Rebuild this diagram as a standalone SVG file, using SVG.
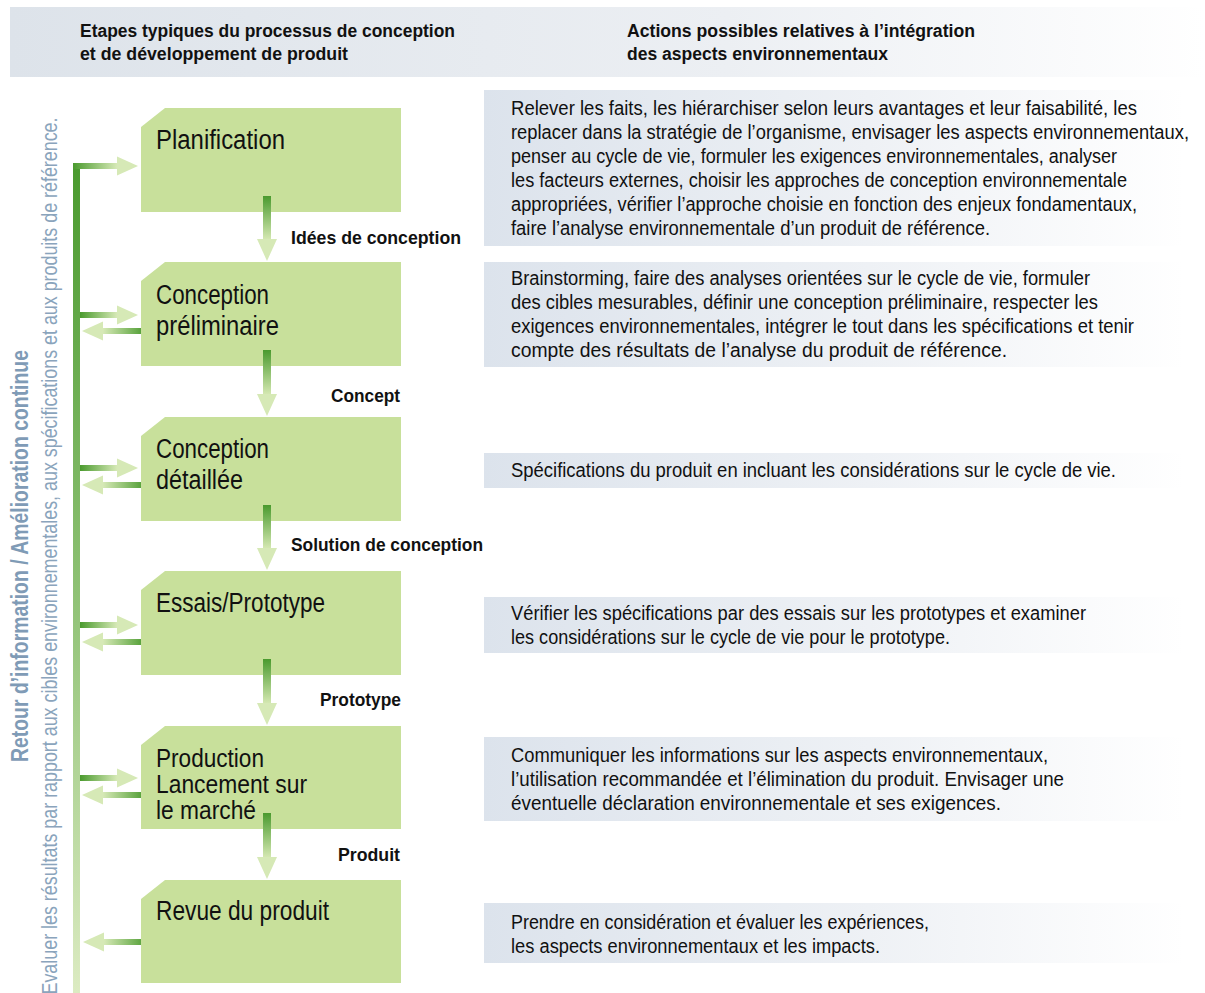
<svg xmlns="http://www.w3.org/2000/svg" width="1205" height="993" viewBox="0 0 1205 993">
<defs>
<linearGradient id="gBand" x1="0" y1="0" x2="1" y2="0"><stop offset="0" stop-color="#dde3ea"/><stop offset="0.6" stop-color="#eceff3"/><stop offset="1" stop-color="#ffffff"/></linearGradient>
<linearGradient id="gBox" x1="0" y1="0" x2="1" y2="0"><stop offset="0" stop-color="#dce3ec"/><stop offset="0.55" stop-color="#eef1f5"/><stop offset="1" stop-color="#ffffff"/></linearGradient>
<linearGradient id="gDown" x1="0" y1="0" x2="0" y2="1"><stop offset="0" stop-color="#4a9a2e"/><stop offset="1" stop-color="#d3e7b0"/></linearGradient>
<linearGradient id="gRight" x1="0" y1="0" x2="1" y2="0"><stop offset="0" stop-color="#4a9a2e"/><stop offset="1" stop-color="#d6e9b6"/></linearGradient>
<linearGradient id="gLeft" x1="1" y1="0" x2="0" y2="0"><stop offset="0" stop-color="#4a9a2e"/><stop offset="1" stop-color="#d6e9b6"/></linearGradient>
<linearGradient id="gVert" x1="0" y1="0" x2="0" y2="1"><stop offset="0" stop-color="#4a9a2e"/><stop offset="0.5" stop-color="#8cc072"/><stop offset="1" stop-color="#dcebc2"/></linearGradient>
</defs>
<style>
text{font-family:"Liberation Sans Narrow","Liberation Sans",Arial,sans-serif;fill:#111;}
.hd{font-size:18px;font-weight:bold;}
.nd{font-size:27px;}
.nd2{font-size:26px;}
.lb{font-size:19px;font-weight:bold;}
.ac{font-size:20px;}
.node{fill:#c8e09b;}
.head{fill:#d6e9b6;}
.vt1{font-size:23px;font-weight:bold;fill:#7f9bb6;}
.vt2{font-size:22px;fill:#8aa4bc;}
</style>

<g id="header">
<rect x="10" y="7" width="1195" height="70" fill="url(#gBand)"/>
<text class="hd" x="80" y="37" textLength="375" lengthAdjust="spacingAndGlyphs">Etapes typiques du processus de conception</text>
<text class="hd" x="80" y="60" textLength="268" lengthAdjust="spacingAndGlyphs">et de développement de produit</text>
<text class="hd" x="627" y="37" textLength="348" lengthAdjust="spacingAndGlyphs">Actions possibles relatives à l’intégration</text>
<text class="hd" x="627" y="60" textLength="261" lengthAdjust="spacingAndGlyphs">des aspects environnementaux</text>
</g>

<g id="side-labels">
<text class="vt1" transform="translate(28,556) rotate(-90)" text-anchor="middle" textLength="412" lengthAdjust="spacingAndGlyphs">Retour d’information / Amélioration continue</text>
<text class="vt2" transform="translate(57,556) rotate(-90)" text-anchor="middle" textLength="877" lengthAdjust="spacingAndGlyphs">Evaluer les résultats par rapport aux cibles environnementales, aux spécifications et aux produits de référence.</text>
</g>

<g id="connectors">
<rect x="73" y="163" width="7" height="830" fill="url(#gVert)"/>
<rect x="73" y="163" width="44" height="6" fill="url(#gRight)"/>
<polygon class="head" points="117,156.5 138,166 117,175.5"/>
<rect x="80" y="312" width="37" height="6" fill="url(#gRight)"/>
<polygon class="head" points="117,305.5 138,315 117,324.5"/>
<rect x="103" y="328" width="43" height="6" fill="url(#gLeft)"/>
<polygon class="head" points="103,321.5 82,331 103,340.5"/>
<rect x="80" y="465" width="37" height="6" fill="url(#gRight)"/>
<polygon class="head" points="117,458.5 138,468 117,477.5"/>
<rect x="103" y="482" width="43" height="6" fill="url(#gLeft)"/>
<polygon class="head" points="103,475.5 82,485 103,494.5"/>
<rect x="80" y="622" width="37" height="6" fill="url(#gRight)"/>
<polygon class="head" points="117,615.5 138,625 117,634.5"/>
<rect x="103" y="639" width="43" height="6" fill="url(#gLeft)"/>
<polygon class="head" points="103,632.5 82,642 103,651.5"/>
<rect x="80" y="775" width="37" height="6" fill="url(#gRight)"/>
<polygon class="head" points="117,768.5 138,778 117,787.5"/>
<rect x="103" y="792" width="43" height="6" fill="url(#gLeft)"/>
<polygon class="head" points="103,785.5 82,795 103,804.5"/>
<rect x="104" y="939" width="44" height="6" fill="url(#gLeft)"/>
<polygon class="head" points="104,932.5 83,942 104,951.5"/>
</g>

<g id="node-planification">
<polygon class="node" points="141,127 165,108 401,108 401,212 141,212"/>
<text class="nd" x="156" y="149" textLength="129" lengthAdjust="spacingAndGlyphs">Planification</text>
</g>
<g id="node-conception-preliminaire">
<polygon class="node" points="141,281 165,262 401,262 401,366 141,366"/>
<text class="nd" x="156" y="304" textLength="113" lengthAdjust="spacingAndGlyphs">Conception</text>
<text class="nd" x="156" y="335" textLength="123" lengthAdjust="spacingAndGlyphs">préliminaire</text>
</g>
<g id="node-conception-detaillee">
<polygon class="node" points="141,436 165,417 401,417 401,521 141,521"/>
<text class="nd" x="156" y="458" textLength="113" lengthAdjust="spacingAndGlyphs">Conception</text>
<text class="nd" x="156" y="489" textLength="87" lengthAdjust="spacingAndGlyphs">détaillée</text>
</g>
<g id="node-essais">
<polygon class="node" points="141,590 165,571 401,571 401,675 141,675"/>
<text class="nd" x="156" y="612" textLength="169" lengthAdjust="spacingAndGlyphs">Essais/Prototype</text>
</g>
<g id="node-production">
<polygon class="node" points="141,745 165,726 401,726 401,829 141,829"/>
<text class="nd2" x="156" y="767" textLength="108" lengthAdjust="spacingAndGlyphs">Production</text>
<text class="nd2" x="156" y="793" textLength="151" lengthAdjust="spacingAndGlyphs">Lancement sur</text>
<text class="nd2" x="156" y="819" textLength="100" lengthAdjust="spacingAndGlyphs">le marché</text>
</g>
<g id="node-revue">
<polygon class="node" points="141,899 165,880 401,880 401,983 141,983"/>
<text class="nd" x="156" y="920" textLength="173" lengthAdjust="spacingAndGlyphs">Revue du produit</text>
</g>

<g id="flow-arrows">
<rect x="263" y="196" width="8" height="43" fill="url(#gDown)"/>
<polygon class="head" points="257,239 277,239 267,261"/>
<rect x="263" y="350" width="8" height="44" fill="url(#gDown)"/>
<polygon class="head" points="257,394 277,394 267,416"/>
<rect x="263" y="505" width="8" height="43" fill="url(#gDown)"/>
<polygon class="head" points="257,548 277,548 267,570"/>
<rect x="263" y="659" width="8" height="44" fill="url(#gDown)"/>
<polygon class="head" points="257,703 277,703 267,725"/>
<rect x="263" y="813" width="8" height="44" fill="url(#gDown)"/>
<polygon class="head" points="257,857 277,857 267,879"/>
<text class="lb" x="291" y="244" textLength="170" lengthAdjust="spacingAndGlyphs">Idées de conception</text>
<text class="lb" x="331" y="402" textLength="69" lengthAdjust="spacingAndGlyphs">Concept</text>
<text class="lb" x="291" y="551" textLength="192" lengthAdjust="spacingAndGlyphs">Solution de conception</text>
<text class="lb" x="320" y="706" textLength="81" lengthAdjust="spacingAndGlyphs">Prototype</text>
<text class="lb" x="338" y="861" textLength="62" lengthAdjust="spacingAndGlyphs">Produit</text>
</g>

<g id="action-1">
<rect x="484" y="90" width="700" height="156" fill="url(#gBox)"/>
<text class="ac" x="511" y="115" textLength="626" lengthAdjust="spacingAndGlyphs">Relever les faits, les hiérarchiser selon leurs avantages et leur faisabilité, les</text>
<text class="ac" x="511" y="139" textLength="678" lengthAdjust="spacingAndGlyphs">replacer dans la stratégie de l’organisme, envisager les aspects environnementaux,</text>
<text class="ac" x="511" y="163" textLength="606" lengthAdjust="spacingAndGlyphs">penser au cycle de vie, formuler les exigences environnementales, analyser</text>
<text class="ac" x="511" y="187" textLength="616" lengthAdjust="spacingAndGlyphs">les facteurs externes, choisir les approches de conception environnementale</text>
<text class="ac" x="511" y="211" textLength="626" lengthAdjust="spacingAndGlyphs">appropriées, vérifier l’approche choisie en fonction des enjeux fondamentaux,</text>
<text class="ac" x="511" y="235" textLength="479" lengthAdjust="spacingAndGlyphs">faire l’analyse environnementale d’un produit de référence.</text>
</g>
<g id="action-2">
<rect x="484" y="262" width="700" height="105" fill="url(#gBox)"/>
<text class="ac" x="511" y="285" textLength="579" lengthAdjust="spacingAndGlyphs">Brainstorming, faire des analyses orientées sur le cycle de vie, formuler</text>
<text class="ac" x="511" y="309" textLength="587" lengthAdjust="spacingAndGlyphs">des cibles mesurables, définir une conception préliminaire, respecter les</text>
<text class="ac" x="511" y="333" textLength="623" lengthAdjust="spacingAndGlyphs">exigences environnementales, intégrer le tout dans les spécifications et tenir</text>
<text class="ac" x="511" y="357" textLength="496" lengthAdjust="spacingAndGlyphs">compte des résultats de l’analyse du produit de référence.</text>
</g>
<g id="action-3">
<rect x="484" y="453" width="700" height="35" fill="url(#gBox)"/>
<text class="ac" x="511" y="477" textLength="605" lengthAdjust="spacingAndGlyphs">Spécifications du produit en incluant les considérations sur le cycle de vie.</text>
</g>
<g id="action-4">
<rect x="484" y="597" width="700" height="56" fill="url(#gBox)"/>
<text class="ac" x="511" y="620" textLength="575" lengthAdjust="spacingAndGlyphs">Vérifier les spécifications par des essais sur les prototypes et examiner</text>
<text class="ac" x="511" y="644" textLength="439" lengthAdjust="spacingAndGlyphs">les considérations sur le cycle de vie pour le prototype.</text>
</g>
<g id="action-5">
<rect x="484" y="737" width="700" height="84" fill="url(#gBox)"/>
<text class="ac" x="511" y="762" textLength="537" lengthAdjust="spacingAndGlyphs">Communiquer les informations sur les aspects environnementaux,</text>
<text class="ac" x="511" y="786" textLength="553" lengthAdjust="spacingAndGlyphs">l’utilisation recommandée et l’élimination du produit. Envisager une</text>
<text class="ac" x="511" y="810" textLength="490" lengthAdjust="spacingAndGlyphs">éventuelle déclaration environnementale et ses exigences.</text>
</g>
<g id="action-6">
<rect x="484" y="903" width="700" height="60" fill="url(#gBox)"/>
<text class="ac" x="511" y="929" textLength="418" lengthAdjust="spacingAndGlyphs">Prendre en considération et évaluer les expériences,</text>
<text class="ac" x="511" y="953" textLength="369" lengthAdjust="spacingAndGlyphs">les aspects environnementaux et les impacts.</text>
</g>
</svg>
